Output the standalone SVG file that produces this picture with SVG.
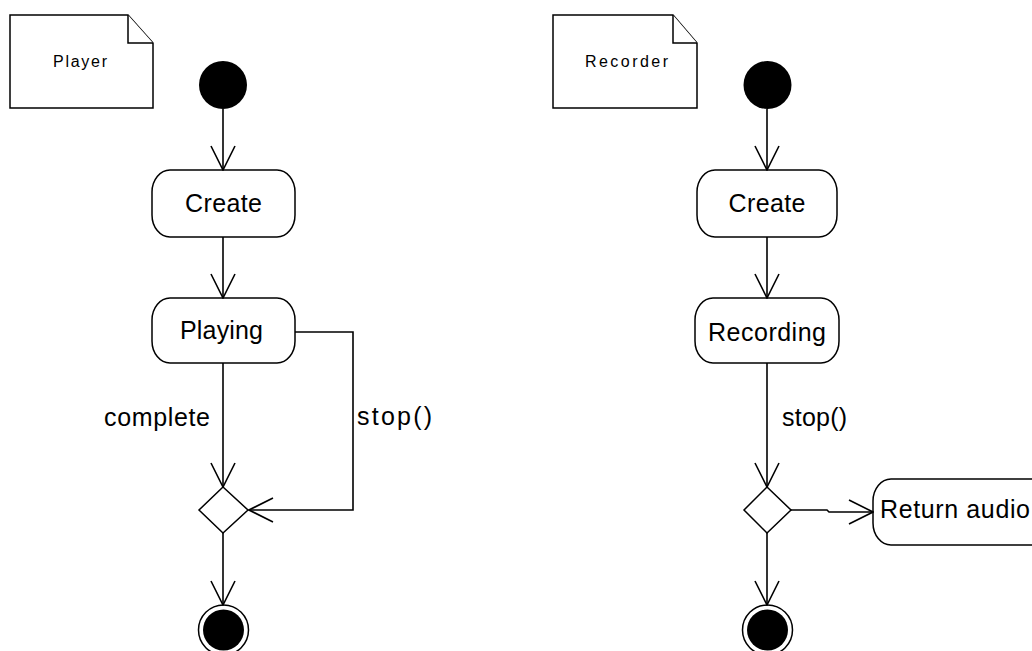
<svg xmlns="http://www.w3.org/2000/svg" width="1032" height="651" viewBox="0 0 1032 651">
  <defs>
    <marker id="open-arrow" viewBox="0 0 26 26" refX="25" refY="13" markerWidth="26" markerHeight="26" markerUnits="userSpaceOnUse" orient="auto">
      <path d="M1,1 L25,13 L1,25" fill="none" stroke="#000" stroke-width="1.6"/>
    </marker>
    <style>
      .edge { fill: none; stroke: #000; stroke-width: 1.6; marker-end: url(#open-arrow); }
      .shape { fill: #fff; stroke: #000; stroke-width: 1.5; }
      .solid { fill: #000; stroke: none; }
      .label { font-family: "Liberation Sans", Arial, sans-serif; font-size: 25px; fill: #000; }
      .note-text { font-family: "Liberation Sans", Arial, sans-serif; font-size: 16px; fill: #000; }
    </style>
  </defs>
  <rect width="1032" height="651" fill="#fff"/>

  <!-- Player activity -->
  <g id="note-player">
    <path class="shape" d="M10,15 H128 L153,43 V108 H10 Z"/>
    <path class="shape" d="M128,15 V43 H153" fill="none"/>
    <text class="note-text" x="53" y="67" textLength="54">Player</text>
  </g>
  <g id="player-start">
    <circle class="solid" cx="223" cy="85" r="24"/>
  </g>
  <g id="player-create">
    <rect class="shape" x="152" y="170" width="143" height="67" rx="18" ry="22"/>
    <text class="label" x="223.5" y="212" text-anchor="middle" textLength="77">Create</text>
  </g>
  <g id="player-playing">
    <rect class="shape" x="152" y="298" width="143" height="65" rx="18" ry="22"/>
    <text class="label" x="221.5" y="339" text-anchor="middle" textLength="83">Playing</text>
  </g>
  <g id="player-decision">
    <path class="shape" d="M223,487 L248,510 L223,533 L199,510 Z"/>
  </g>
  <g id="player-end">
    <circle class="shape" cx="223.5" cy="630" r="25"/>
    <circle class="solid" cx="223.5" cy="630" r="20.5"/>
  </g>

  <!-- Recorder activity -->
  <g id="note-recorder">
    <path class="shape" d="M553,15 H673 L697,43 V108 H553 Z"/>
    <path class="shape" d="M673,15 V43 H697" fill="none"/>
    <text class="note-text" x="585" y="67" textLength="83">Recorder</text>
  </g>
  <g id="recorder-start">
    <circle class="solid" cx="767.5" cy="85" r="24"/>
  </g>
  <g id="recorder-create">
    <rect class="shape" x="697" y="170" width="140" height="67" rx="18" ry="22"/>
    <text class="label" x="767" y="212" text-anchor="middle" textLength="77">Create</text>
  </g>
  <g id="recorder-recording">
    <rect class="shape" x="695" y="298" width="144" height="65" rx="18" ry="22"/>
    <text class="label" x="767" y="341" text-anchor="middle" textLength="118">Recording</text>
  </g>
  <g id="recorder-decision">
    <path class="shape" d="M767,487 L791,510 L767,533 L744,510 Z"/>
  </g>
  <g id="recorder-return">
    <rect class="shape" x="873" y="479" width="180" height="66" rx="18" ry="22"/>
    <text class="label" x="880" y="518" textLength="150">Return audio</text>
  </g>
  <g id="recorder-end">
    <circle class="shape" cx="767.5" cy="630" r="25"/>
    <circle class="solid" cx="767.5" cy="630" r="20.5"/>
  </g>

  <!-- Connectors -->
  <g id="connectors">
    <path class="edge" d="M223,109 V170"/>
    <path class="edge" d="M223,237 V298"/>
    <path class="edge" d="M223,363 V487"/>
    <path class="edge" d="M295,332 H353 V510 H249"/>
    <path class="edge" d="M223,533 V605"/>

    <path class="edge" d="M767,109 V170"/>
    <path class="edge" d="M767,237 V298"/>
    <path class="edge" d="M767,363 V487"/>
    <path class="edge" d="M791,510 H827 L829,512 H873"/>
    <path class="edge" d="M767,533 V605"/>

    <text class="label" x="104" y="426" textLength="106">complete</text>
    <text class="label" x="357" y="425" textLength="75">stop()</text>
    <text class="label" x="782" y="426" textLength="65">stop()</text>
  </g>
</svg>
